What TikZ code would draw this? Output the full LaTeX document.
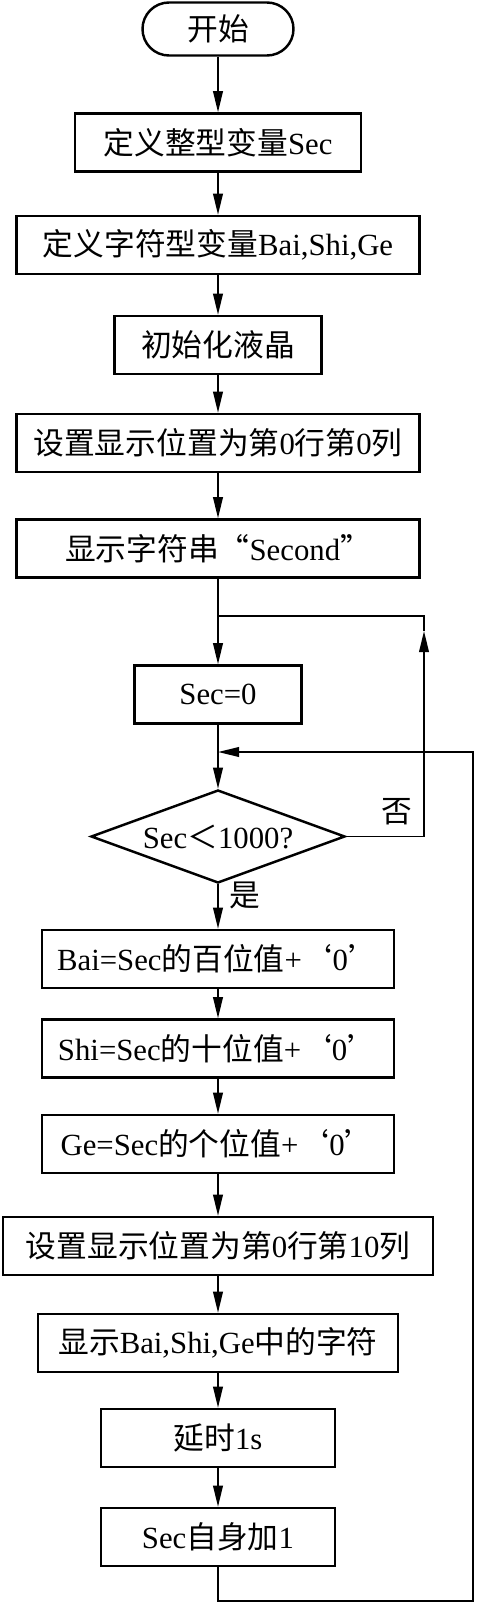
\documentclass[tikz,border=0pt]{standalone}
\usepackage{fontspec}
\setmainfont{Liberation Serif}
\newfontfamily\cjk{Noto Sans CJK SC}
\usetikzlibrary{positioning, arrows.meta, shapes.geometric}

\begin{document}
\begin{tikzpicture}[
		font=\fontsize{17.5}{20}\selectfont,
		flowbox/.style={draw, line width=1.4pt, minimum height=1.16cm, inner sep=2pt},
		terminal/.style={draw, line width=1.4pt, rounded corners=0.53cm, minimum width=3.02cm, minimum height=1.06cm},
		decision/.style={draw, diamond, aspect=2.73, line width=1.4pt, inner sep=0pt, minimum width=5.08cm, minimum height=1.86cm},
		flowarrow/.style={line width=1pt, -{Triangle[length=12pt, width=5.5pt]}},
		flowline/.style={line width=1pt}
	]
		
		\useasboundingbox (0,0) rectangle (9.52,-32.08);
		
		% --- MAIN COLUMN ---
		\node[terminal] (Start) at (4.36,-0.58) {\cjk 开始};
		\node[flowbox, minimum width=5.72cm] (DefSec) at (4.36,-2.85) {{\cjk 定义整型变量}Sec};
		\node[flowbox, minimum width=8.06cm] (DefChar) at (4.36,-4.90) {{\cjk 定义字符型变量}Bai,Shi,Ge};
		\node[flowbox, minimum width=4.14cm] (InitLcd) at (4.36,-6.90) {\cjk 初始化液晶};
		\node[flowbox, minimum width=8.06cm] (PosA) at (4.36,-8.86) {{\cjk 设置显示位置为第}0{\cjk 行第}0{\cjk 列}};
		\node[flowbox, minimum width=8.06cm] (ShowStr) at (4.36,-10.97) {{\cjk 显示字符串“}Second{\cjk ”}};
		\coordinate (JoinA) at (4.36,-12.32);
		\node[flowbox, minimum width=3.34cm] (SecZero) at (4.36,-13.89) {Sec=0};
		\coordinate (JoinB) at (4.36,-15.04);
		\node[decision] (Check) at (4.36,-16.73) {Sec{\cjk ＜}1000?};
		\node[flowbox, minimum width=7.04cm] (GetBai) at (4.36,-19.18) {Bai=Sec{\cjk 的百位值}+{\cjk ‘}0{\cjk ’}};
		\node[flowbox, minimum width=7.04cm] (GetShi) at (4.36,-20.97) {Shi=Sec{\cjk 的十位值}+{\cjk ‘}0{\cjk ’}};
		\node[flowbox, minimum width=7.04cm] (GetGe) at (4.36,-22.88) {Ge=Sec{\cjk 的个位值}+{\cjk ‘}0{\cjk ’}};
		\node[flowbox, minimum width=8.60cm] (PosB) at (4.36,-24.92) {{\cjk 设置显示位置为第}0{\cjk 行第}10{\cjk 列}};
		\node[flowbox, minimum width=7.20cm] (ShowDig) at (4.36,-26.86) {{\cjk 显示}Bai,Shi,Ge{\cjk 中的字符}};
		\node[flowbox, minimum width=4.68cm] (Delay) at (4.36,-28.76) {{\cjk 延时}1s};
		\node[flowbox, minimum width=4.68cm] (SecInc) at (4.36,-30.74) {Sec{\cjk 自身加}1};
		
		% --- ARROWS DOWN ---
		\draw[flowarrow] (Start) -- (DefSec);
		\draw[flowarrow] (DefSec) -- (DefChar);
		\draw[flowarrow] (DefChar) -- (InitLcd);
		\draw[flowarrow] (InitLcd) -- (PosA);
		\draw[flowarrow] (PosA) -- (ShowStr);
		\draw[flowarrow] (ShowStr) -- (SecZero);
		\draw[flowarrow] (SecZero) -- (Check);
		\draw[flowarrow] (Check) -- (GetBai);
		\node at (4.90,-17.90) {\cjk 是};
		\draw[flowarrow] (GetBai) -- (GetShi);
		\draw[flowarrow] (GetShi) -- (GetGe);
		\draw[flowarrow] (GetGe) -- (PosB);
		\draw[flowarrow] (PosB) -- (ShowDig);
		\draw[flowarrow] (ShowDig) -- (Delay);
		\draw[flowarrow] (Delay) -- (SecInc);
		
		% --- LOOPS ---
		\coordinate (NoUp) at (8.48,-12.62);
		\draw[flowarrow] (Check.east) -| (NoUp);
		\draw[flowline] (NoUp) |- (JoinA);
		\node at (7.94,-16.24) {\cjk 否};
		
		\coordinate (Back) at (9.46,-32.02);
		\draw[flowarrow] (SecInc.south) |- (Back) |- (JoinB);
		
	\end{tikzpicture}
\end{document}
